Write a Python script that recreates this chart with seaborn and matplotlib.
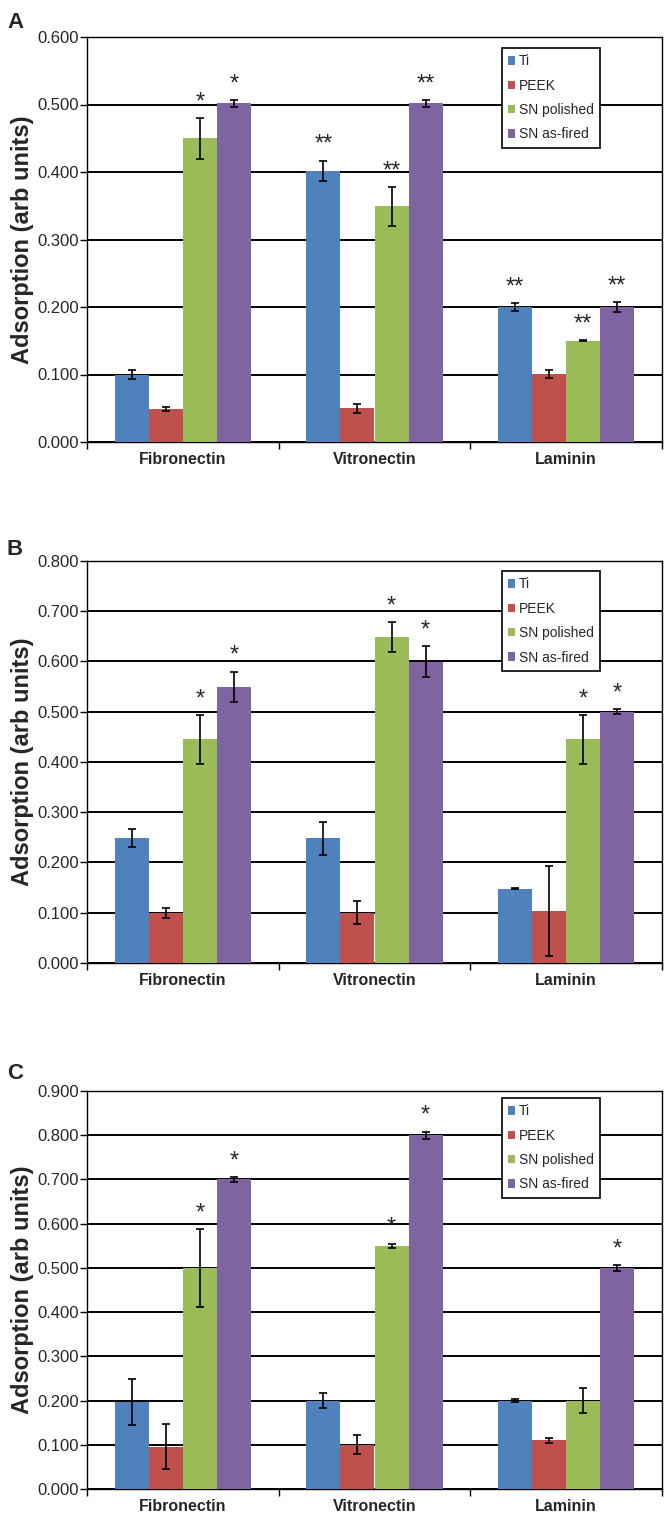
import numpy as np
import pandas as pd
import matplotlib
matplotlib.use("Agg")
import matplotlib.pyplot as plt
import seaborn as sns

proteins = ["Fibronectin", "Vitronectin", "Laminin"]
surfaces = ["Ti", "PEEK", "SN polished", "SN as-fired"]
colors = ["#4F81BD", "#C0504D", "#9BBB59", "#8064A2"]

# values[protein][surface]
a_vals = [[0.100, 0.049, 0.450, 0.502],
          [0.402, 0.050, 0.349, 0.502],
          [0.200, 0.101, 0.150, 0.200]]
a_errs = [[0.006, 0.003, 0.030, 0.005],
          [0.015, 0.007, 0.029, 0.005],
          [0.006, 0.006, 0.001, 0.007]]
a_stars = [["", "", "*", "*"],
           ["**", "", "**", "**"],
           ["**", "", "**", "**"]]

b_vals = [[0.248, 0.100, 0.445, 0.550],
          [0.248, 0.100, 0.648, 0.600],
          [0.148, 0.103, 0.445, 0.500]]
b_errs = [[0.018, 0.010, 0.048, 0.030],
          [0.033, 0.023, 0.030, 0.030],
          [0.001, 0.090, 0.048, 0.005]]
b_stars = [["", "", "*", "*"],
           ["", "", "*", "*"],
           ["", "", "*", "*"]]

c_vals = [[0.196, 0.096, 0.500, 0.700],
          [0.200, 0.100, 0.550, 0.800],
          [0.200, 0.110, 0.200, 0.500]]
c_errs = [[0.052, 0.051, 0.088, 0.006],
          [0.017, 0.021, 0.005, 0.008],
          [0.004, 0.005, 0.028, 0.006]]
c_stars = [["", "", "*", "*"],
           ["", "", "*", "*"],
           ["", "", "", "*"]]

panels = [("A", a_vals, a_errs, a_stars, 0.6),
          ("B", b_vals, b_errs, b_stars, 0.8),
          ("C", c_vals, c_errs, c_stars, 0.9)]

sns.set_theme(style="white")
plt.rcParams['font.family'] = ['Liberation Sans', 'DejaVu Sans']

W, H = 671, 1528
fig = plt.figure(figsize=(W / 100, H / 100), dpi=100)
# axes boxes in pixels: (top, bottom), shared left/right
px_boxes = [(37, 442), (561, 963), (1091, 1489)]
letter_base = [28, 555, 1079]
legend_drop = [11, 10, 7]
left_px, right_px = 87, 662

for (letter, vals, errs, stars, ymax), (top, bot), lb, ld in zip(panels, px_boxes,
                                                                 letter_base, legend_drop):
    ax = fig.add_axes([left_px / W, 1 - bot / H, (right_px - left_px) / W, (bot - top) / H])
    rows = []
    for i, p in enumerate(proteins):
        for j, s in enumerate(surfaces):
            rows.append({"protein": p, "surface": s, "value": vals[i][j]})
    df = pd.DataFrame(rows)
    sns.barplot(data=df, x="protein", y="value", hue="surface", order=proteins,
                hue_order=surfaces, palette=colors, saturation=1, errorbar=None,
                width=0.71, gap=0, ax=ax, zorder=3, linewidth=0)

    # error bars and significance stars on top of each bar
    bar_conts = list(ax.containers)
    for j, cont in enumerate(bar_conts):
        for i, bar in enumerate(cont):
            xc = bar.get_x() + bar.get_width() / 2
            h = bar.get_height()
            e = errs[i][j]
            ax.errorbar(xc, h, yerr=e, fmt="none", ecolor="black", elinewidth=1.2,
                        capsize=3, capthick=1.2, zorder=4)
            if stars[i][j]:
                ax.annotate(stars[i][j], (xc, h + e), xytext=(0, 7),
                            textcoords="offset points", ha="center", va="baseline",
                            fontsize=17, zorder=5)

    ax.set_ylim(0, ymax)
    ax.set_xlim(-0.5, 2.5)
    yt = np.arange(0, ymax + 0.001, 0.1)
    ax.set_yticks(yt)
    ax.set_yticklabels(["%.3f" % t for t in yt], fontsize=12)
    ax.yaxis.grid(True, color="black", linewidth=1.4, zorder=0)
    ax.set_axisbelow(True)
    ax.tick_params(axis="y", left=True, length=5, width=1, pad=1, color="black")
    ax.set_xticks([0, 1, 2])
    ax.set_xticklabels(proteins, fontsize=11.5, fontweight="bold")
    ax.set_xticks([-0.5, 0.5, 1.5, 2.5], minor=True)
    ax.tick_params(axis="x", which="major", length=0, pad=7)
    ax.tick_params(axis="x", which="minor", bottom=True, length=5, width=1, color="black")
    for sp in ax.spines.values():
        sp.set_color("black")
        sp.set_linewidth(1)
    ax.set_xlabel("")
    ax.set_ylabel("Adsorption (arb units)", fontsize=17, fontweight="bold", labelpad=2)

    leg = ax.legend(loc="upper right", bbox_to_anchor=(1 - 62 / 575, 1 - ld / (bot - top)),
                    fontsize=10, frameon=True, fancybox=False, framealpha=1,
                    facecolor="white", handlelength=0.55,
                    handleheight=0.55, handletextpad=0.25, labelspacing=0.75,
                    borderpad=0.45, borderaxespad=0)
    leg.get_frame().set_edgecolor("black")
    leg.get_frame().set_linewidth(1.2)
    leg.set_zorder(6)

    fig.text(7 / W, 1 - lb / H, letter, fontsize=16, fontweight="bold",
             va="baseline", ha="left")

fig.savefig("out.png", dpi=100, facecolor="white")
